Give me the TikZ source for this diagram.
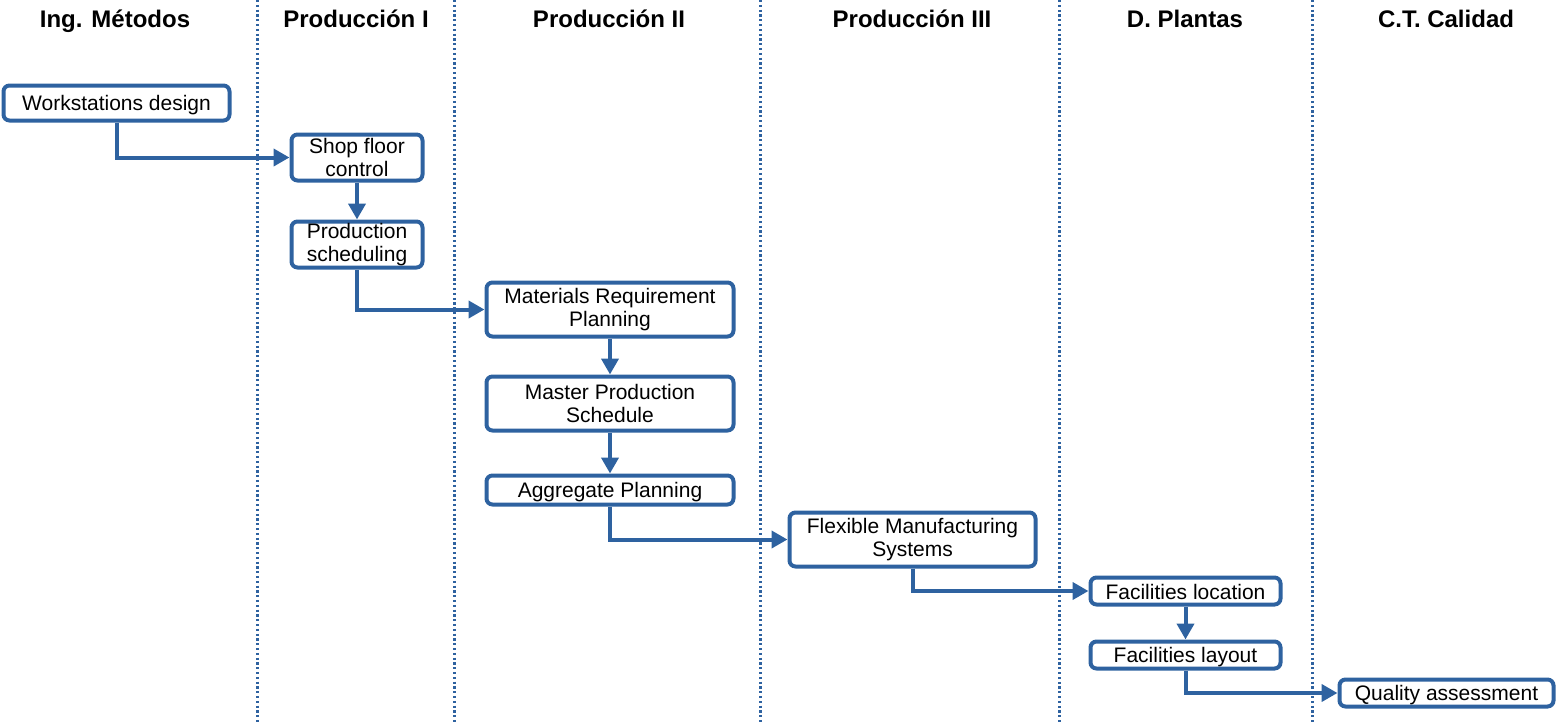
\documentclass[tikz,border=0pt]{standalone}
\usepackage{fontspec}
\setmainfont{Liberation Sans}
\usetikzlibrary{arrows.meta}
\definecolor{lane}{RGB}{46,98,160}
\newcommand{\lowtext}[1]{\raisebox{-2pt}[\height][\depth]{#1}}
\tikzset{
  box/.style={draw=lane, line width=4pt, rounded corners=6pt, fill=white, inner sep=0pt, align=center,
    font=\fontsize{21}{23.5}\selectfont, text=black},
  conn/.style={draw=lane, line width=4pt, -{Triangle[length=16pt,width=17pt]}},
  divider/.style={draw=lane, line width=3pt, dash pattern=on 2.2pt off 2.6pt},
  head/.style={font=\fontsize{24}{26}\selectfont\bfseries, text=black, anchor=base, inner sep=0pt}
}
\begin{document}
\begin{tikzpicture}[x=1pt,y=-1pt]
\useasboundingbox (0,0) rectangle (1556,723);
% lane dividers
\foreach \x/\n in {257/d1,454/d2,760/d3,1059/d4,1312/d5}{
  \coordinate (\n t) at (\x,0);
  \coordinate (\n b) at (\x,723);
  \draw[divider] (\n t) -- (\n b);
}
% headers
\node[head] (h1) at (115,27) {Ing. Métodos};
\node[head] (h2) at (356,27) {Producción I};
\node[head] (h3) at (609,27) {Producción II};
\node[head] (h4) at (912,27) {Producción III};
\node[head] (h5) at (1185,27) {D. Plantas};
\node[head] (h6) at (1446,27) {C.T. Calidad};
% nodes
\node[box, minimum width=226, minimum height=35] (wd) at (116.5,103) {\lowtext{Workstations design}};
\node[box, minimum width=131, minimum height=46] (sfc) at (357,157.5) {Shop floor\\control};
\node[box, minimum width=131, minimum height=46] (ps) at (357,244.5) {Production\\scheduling};
\node[box, minimum width=247, minimum height=54] (mrp) at (610,309.5) {Materials Requirement\\Planning};
\node[box, minimum width=247, minimum height=54] (mps) at (610,403.5) {Master Production\\Schedule};
\node[box, minimum width=247, minimum height=29] (ap) at (610,490) {\lowtext{Aggregate Planning}};
\node[box, minimum width=246, minimum height=54] (fms) at (912.5,539.5) {Flexible Manufacturing\\Systems};
\node[box, minimum width=190, minimum height=27] (floc) at (1185.5,591) {\raisebox{-1pt}[\height][\depth]{Facilities location}};
\node[box, minimum width=190, minimum height=27] (flay) at (1185.5,655) {\lowtext{Facilities layout}};
\node[box, minimum width=214, minimum height=27] (qa) at (1446.5,693) {\lowtext{Quality assessment}};
% connectors
\draw[conn] (wd.south) |- (sfc.west);
\draw[conn] (sfc.south) -- (ps.north);
\draw[conn] (ps.south) |- (mrp.west);
\draw[conn] (mrp.south) -- (mps.north);
\draw[conn] (mps.south) -- (ap.north);
\draw[conn] (ap.south) |- (fms.west);
\draw[conn] (fms.south) |- (floc.west);
\draw[conn] (floc.south) -- (flay.north);
\draw[conn] (flay.south) |- (qa.west);
\end{tikzpicture}
\end{document}
